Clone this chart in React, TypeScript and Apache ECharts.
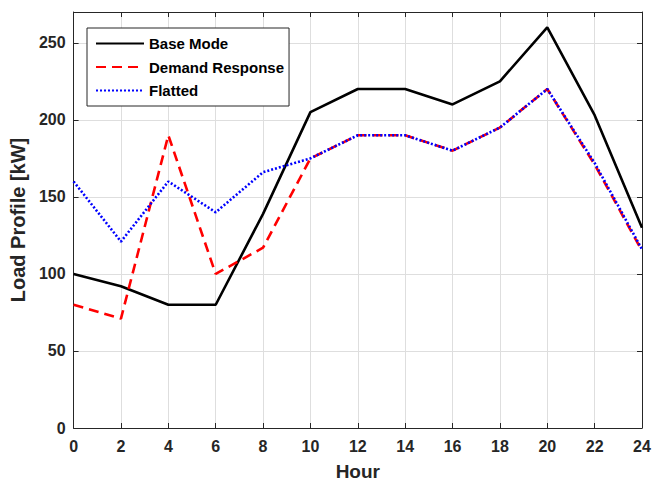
import React, { useEffect, useRef } from "react";
import * as echarts from "echarts";

const hours = [0, 2, 4, 6, 8, 10, 12, 14, 16, 18, 20, 22, 24];
const baseMode = [100, 92, 80, 80, 139, 205, 220, 220, 210, 225, 260, 203, 130];
const demandResponse = [80, 71, 190, 100, 117, 175, 190, 190, 180, 195, 220, 171, 115];
const flatted = [160, 121, 160, 140, 166, 175, 190, 190, 180, 195, 220, 172, 116];
const seriesNames = ["Base Mode", "Demand Response", "Flatted"];

const FONT = "Liberation Sans, Arial, sans-serif";
const AX = "#262626";

export default function App() {
  const ref = useRef<HTMLDivElement>(null);
  useEffect(() => {
    if (!ref.current) return;
    const chart = echarts.init(ref.current, undefined, { renderer: "svg" });
    const pairs = (v: number[]) => hours.map((h, i) => [h, v[i]]);
    const hiddenAxisCommon = {
      axisLabel: { show: false },
      splitLine: { show: false },
      axisLine: { show: true, onZero: false, lineStyle: { color: AX, width: 1 } },
      axisTick: { show: true, inside: true, length: 5, lineStyle: { color: AX } },
    };
    chart.setOption({
      animation: false,
      backgroundColor: "#ffffff",
      grid: { left: 73, right: 23, top: 12, bottom: 55, containLabel: false },
      legend: {
        data: seriesNames,
        orient: "vertical",
        left: 87,
        top: 28,
        itemWidth: 48,
        itemHeight: 14,
        itemGap: 8.5,
        padding: [8, 5, 8, 8],
        backgroundColor: "#ffffff",
        borderColor: AX,
        borderWidth: 1,
        borderRadius: 0,
        itemStyle: { opacity: 0 },
        textStyle: { fontFamily: FONT, fontWeight: "bold", fontSize: 15, color: "#000" },
      },
      xAxis: [
        {
          type: "value",
          min: 0,
          max: 24,
          interval: 2,
          name: "Hour",
          nameLocation: "middle",
          nameGap: 34,
          nameTextStyle: { fontFamily: FONT, fontWeight: "bold", fontSize: 19, color: AX },
          axisLine: { show: true, onZero: false, lineStyle: { color: AX, width: 1 } },
          axisTick: { show: true, inside: true, length: 5, lineStyle: { color: AX } },
          axisLabel: { fontFamily: FONT, fontWeight: "bold", fontSize: 16, color: AX, margin: 10 },
          splitLine: { show: true, lineStyle: { color: "#dedede", width: 1 } },
        },
        { type: "value", position: "top", min: 0, max: 24, interval: 2, ...hiddenAxisCommon },
      ],
      yAxis: [
        {
          type: "value",
          min: 0,
          max: 270,
          interval: 50,
          name: "Load Profile [kW]",
          nameLocation: "middle",
          nameGap: 38,
          nameTextStyle: { fontFamily: FONT, fontWeight: "bold", fontSize: 20, color: AX },
          axisLine: { show: true, onZero: false, lineStyle: { color: AX, width: 1 } },
          axisTick: { show: true, inside: true, length: 5, lineStyle: { color: AX } },
          axisLabel: { fontFamily: FONT, fontWeight: "bold", fontSize: 16, color: AX, margin: 8, showMaxLabel: false },
          splitLine: { show: true, lineStyle: { color: "#dedede", width: 1 } },
        },
        {
          type: "value",
          position: "right",
          min: 0,
          max: 270,
          interval: 50,
          ...hiddenAxisCommon,
        },
      ],
      series: [
        {
          name: seriesNames[0],
          type: "line",
          data: pairs(baseMode),
          symbol: "none",
          color: "#000000",
          lineStyle: { color: "#000000", width: 2.6 },
          z: 3,
        },
        {
          name: seriesNames[1],
          type: "line",
          data: pairs(demandResponse),
          symbol: "none",
          color: "#ff0000",
          lineStyle: { color: "#ff0000", width: 2.6, type: [10, 6] },
          z: 4,
        },
        {
          name: seriesNames[2],
          type: "line",
          data: pairs(flatted),
          symbol: "none",
          color: "#0000ff",
          lineStyle: { color: "#0000ff", width: 2.6, type: [2, 2] },
          z: 5,
        },
      ],
    });
    return () => chart.dispose();
  }, []);
  return <div ref={ref} style={{ width: 665, height: 486, position: "absolute", left: 0, top: 0 }} />;
}
